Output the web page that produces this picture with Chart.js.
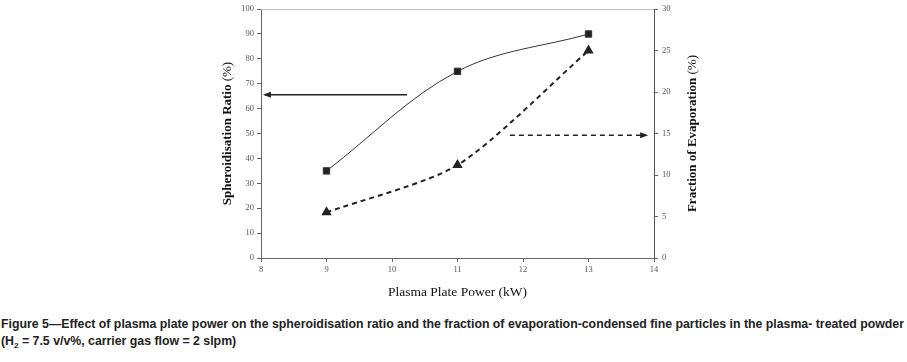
<!DOCTYPE html>
<html>
<head>
<meta charset="utf-8">
<script src="https://cdn.jsdelivr.net/npm/chart.js@4"></script>
<style>
  body { margin: 0; background: #fff; width: 907px; height: 362px; overflow: hidden; }
  #wrap { position: relative; width: 907px; height: 305px; }
  .caption { font-family: "Liberation Sans", Arial, sans-serif; font-weight: bold;
             font-size: 12px; color: #222; line-height: 17px; margin-left: 1px; margin-top: 11px; }
  .caption span { display: inline-block; white-space: nowrap; transform-origin: 0 50%; }
  .caption sub { font-size: 8px; line-height: 0; }
</style>
</head>
<body>
<div id="wrap"><canvas id="chart" width="907" height="305"></canvas></div>
<div class="caption">
  <span id="cap1">Figure 5&#8212;Effect of plasma plate power on the spheroidisation ratio and the fraction of evaporation-condensed fine particles in the plasma- treated powder</span><br>
  <span id="cap2">(H<sub>2</sub> = 7.5 v/v%, carrier gas flow = 2 slpm)</span>
</div>
<script>
// values
let power = [9, 11, 13];
let spheroidisation = [35, 75, 90];
let evaporation = [5.5, 11.2, 25];

// annotation arrows (x in kW, y in axis units)
let sphArrowX = [10.23, 8.06];
let sphArrowY = [65.6, 65.6];
let evapArrowX = [11.8, 13.88];
let evapArrowY = [14.8, 14.8];

// narrow caption font: squeeze the lines
let k = 903 / document.getElementById('cap1').getBoundingClientRect().width;
document.getElementById('cap1').style.transform = 'scaleX(' + k + ')';
document.getElementById('cap2').style.transform = 'scaleX(' + k + ')';

function toPoints(xs, ys) {
  let pts = [];
  for (let i = 0; i < xs.length; i++) {
    pts.push({x: xs[i], y: ys[i]});
  }
  return pts;
}

function drawTitle(c, x, y, bold, normal) {
  c.save();
  c.translate(x, y);
  c.rotate(-Math.PI / 2);
  c.textBaseline = 'middle';
  c.fillStyle = '#111';
  c.font = 'bold 13px "Liberation Serif"';
  const w1 = c.measureText(bold).width;
  c.font = '13px "Liberation Serif"';
  const w2 = c.measureText(normal).width;
  let start = -(w1 + w2) / 2;
  c.font = 'bold 13px "Liberation Serif"';
  c.fillText(bold, start, 0);
  c.font = '13px "Liberation Serif"';
  c.fillText(normal, start + w1, 0);
  c.restore();
}

// arrow heads, axis titles, top frame line
const extras = {
  id: 'extras',
  afterDatasetsDraw(chart) {
    const c = chart.ctx;
    const a = chart.chartArea;
    c.save();
    c.strokeStyle = '#bbb';
    c.lineWidth = 1;
    c.beginPath();
    c.moveTo(a.left, a.top + 0.5);
    c.lineTo(a.right, a.top + 0.5);
    c.stroke();

    [2, 3].forEach(function(di) {
      const pts = chart.getDatasetMeta(di).data;
      const p0 = pts[0], p1 = pts[pts.length - 1];
      const dir = p1.x > p0.x ? 1 : -1;
      c.fillStyle = '#222';
      c.beginPath();
      c.moveTo(p1.x + dir * 2, p1.y);
      c.lineTo(p1.x - dir * 6, p1.y - 3);
      c.lineTo(p1.x - dir * 6, p1.y + 3);
      c.closePath();
      c.fill();
    });
    c.restore();

    const mid = (a.top + a.bottom) / 2;
    drawTitle(c, 228, mid, 'Spheroidisation Ratio ', '(%)');
    drawTitle(c, 693, mid, 'Fraction of Evaporation ', '(%)');
  }
};

const tickFont = {family: 'Liberation Serif', size: 8.5};

var ctx = document.getElementById('chart').getContext('2d');

var chart = new Chart(ctx, {
  type: 'line',
  data: {
    datasets: [{
      label: 'Spheroidisation Ratio',
      data: toPoints(power, spheroidisation),
      borderColor: '#333',
      backgroundColor: '#222',
      borderWidth: 1,
      tension: 0.35,
      pointStyle: 'rect',
      pointRadius: 4.5,
      yAxisID: 'y'
    },
    {
      label: 'Fraction of Evaporation',
      data: toPoints(power, evaporation),
      borderColor: '#222',
      backgroundColor: '#222',
      borderWidth: 2,
      borderDash: [5, 4],
      tension: 0.25,
      pointStyle: 'triangle',
      pointRadius: 4,
      yAxisID: 'y1'
    },
    {
      data: toPoints(sphArrowX, sphArrowY),
      borderColor: '#222',
      borderWidth: 1.5,
      pointRadius: 0,
      yAxisID: 'y'
    },
    {
      data: toPoints(evapArrowX, evapArrowY),
      borderColor: '#222',
      borderWidth: 1.5,
      borderDash: [5, 4],
      pointRadius: 0,
      yAxisID: 'y1'
    }]
  },
  plugins: [extras],
  options: {
    responsive: false,
    animation: false,
    layout: {
      padding: {left: 214, right: 205, top: 8, bottom: 0}
    },
    plugins: {
      legend: {display: false},
      tooltip: {enabled: false}
    },
    scales: {
      x: {
        type: 'linear',
        min: 8,
        max: 14,
        afterFit: function(scale) { scale.height = 47; },
        grid: {drawOnChartArea: false, tickLength: 4, color: '#666'},
        border: {color: '#666'},
        ticks: {stepSize: 1, font: tickFont, color: '#555', padding: 3},
        title: {
          display: true,
          text: 'Plasma Plate Power (kW)',
          font: {family: 'Liberation Serif', size: 13.5},
          color: '#111',
          padding: {bottom: 4}
        }
      },
      y: {
        type: 'linear',
        position: 'left',
        min: 0,
        max: 100,
        afterFit: function(scale) { scale.width = 47; },
        grid: {drawOnChartArea: false, tickLength: 4, color: '#666'},
        border: {color: '#666'},
        ticks: {stepSize: 10, font: tickFont, color: '#555', padding: 3}
      },
      y1: {
        type: 'linear',
        position: 'right',
        min: 0,
        max: 30,
        afterFit: function(scale) { scale.width = 48; },
        grid: {drawOnChartArea: false, tickLength: 4, color: '#666'},
        border: {color: '#555', dash: [4, 3]},
        ticks: {stepSize: 5, font: tickFont, color: '#555', padding: 4}
      }
    }
  }
});
</script>
</body>
</html>
